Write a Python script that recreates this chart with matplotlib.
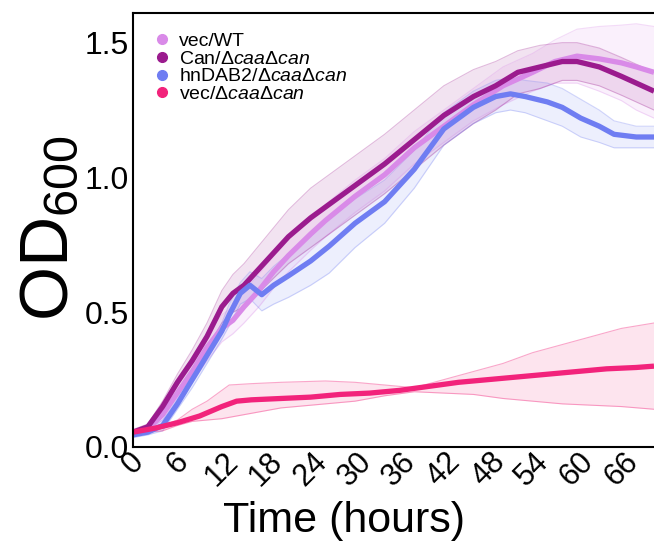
import matplotlib
matplotlib.use("Agg")
import matplotlib.pyplot as plt
from matplotlib.lines import Line2D
import numpy as np

plt.rcParams['font.family'] = ['Liberation Sans', 'DejaVu Sans']
plt.rcParams['mathtext.fontset'] = 'custom'
plt.rcParams['mathtext.rm'] = 'Liberation Sans'
plt.rcParams['mathtext.it'] = 'Liberation Sans:italic'

# --- data (time in hours, OD600) ---
# vec/WT
t_wt = [0, 2, 4, 6, 8, 10, 12, 13.5, 15, 17, 19, 21, 24, 26, 30, 34, 38, 42, 46, 50, 54, 57, 60, 63, 66, 68, 70.4]
od_wt = [0.05, 0.065, 0.12, 0.20, 0.28, 0.37, 0.44, 0.47, 0.52, 0.58, 0.65, 0.71, 0.79, 0.84, 0.93, 1.01, 1.11,
         1.19, 1.27, 1.34, 1.39, 1.43, 1.45, 1.44, 1.425, 1.41, 1.39]
sd_wt = [0.01, 0.01, 0.02, 0.03, 0.04, 0.05, 0.05, 0.05, 0.06, 0.06, 0.06, 0.06, 0.06, 0.06, 0.06, 0.06, 0.06,
         0.06, 0.06, 0.07, 0.07, 0.08, 0.10, 0.12, 0.14, 0.16, 0.17]

# Can/ΔcaaΔcan
t_can = [0, 2, 4, 6, 8, 10, 12, 13.5, 15, 18, 21, 24, 26, 30, 34, 38, 42, 46, 49, 52, 55, 58, 60, 63, 66, 68, 70.4]
od_can = [0.055, 0.075, 0.15, 0.24, 0.32, 0.41, 0.52, 0.57, 0.60, 0.69, 0.78, 0.85, 0.89, 0.97, 1.05, 1.14, 1.23,
          1.30, 1.34, 1.39, 1.41, 1.43, 1.43, 1.41, 1.375, 1.35, 1.32]
sd_can = [0.01, 0.01, 0.02, 0.03, 0.04, 0.05, 0.06, 0.07, 0.08, 0.09, 0.10, 0.11, 0.11, 0.11, 0.11, 0.11, 0.11,
          0.10, 0.09, 0.08, 0.08, 0.07, 0.07, 0.07, 0.07, 0.07, 0.07]

# hnDAB2/ΔcaaΔcan
t_dab = [0, 2, 4, 6, 8, 10, 12, 13, 14.5, 15.8, 17.4, 19, 21, 24, 26.5, 30, 34, 38, 42, 46, 49, 51, 53, 56, 58,
         60.5, 63, 65, 68, 70.4]
od_dab = [0.045, 0.055, 0.08, 0.16, 0.25, 0.34, 0.43, 0.49, 0.57, 0.60, 0.565, 0.60, 0.635, 0.69, 0.745, 0.83,
          0.91, 1.03, 1.18, 1.26, 1.30, 1.31, 1.30, 1.28, 1.26, 1.22, 1.19, 1.16, 1.15, 1.15]
sd_dab = [0.01, 0.01, 0.02, 0.02, 0.03, 0.03, 0.03, 0.04, 0.04, 0.05, 0.06, 0.07, 0.08, 0.09, 0.10, 0.09,
          0.08, 0.07, 0.06, 0.06, 0.06, 0.06, 0.06, 0.07, 0.07, 0.07, 0.06, 0.05, 0.04, 0.04]

# vec/ΔcaaΔcan
t_vec = [0, 3, 6, 9, 12, 14, 16, 20, 24, 28, 32, 36, 40, 44, 48, 52, 56, 60, 64, 68, 70.4]
od_vec = [0.055, 0.07, 0.09, 0.115, 0.15, 0.17, 0.175, 0.18, 0.185, 0.195, 0.20, 0.21, 0.225, 0.24, 0.25, 0.26,
          0.27, 0.28, 0.29, 0.295, 0.30]
t_vec_band = [0, 4, 6, 8, 10, 12, 13, 16, 20, 26, 30, 34, 38, 42, 46, 50, 54, 58, 62, 66, 70.4]
vec_hi = [0.06, 0.08, 0.10, 0.14, 0.17, 0.21, 0.23, 0.235, 0.24, 0.245, 0.24, 0.23, 0.22, 0.25, 0.28, 0.31, 0.35,
          0.38, 0.41, 0.44, 0.46]
vec_lo = [0.05, 0.06, 0.08, 0.095, 0.10, 0.105, 0.11, 0.125, 0.145, 0.16, 0.17, 0.19, 0.205, 0.20, 0.195, 0.18,
          0.17, 0.16, 0.155, 0.15, 0.14]

labels = ['vec/WT', r'Can/Δ$\it{caa}$Δ$\it{can}$', r'hnDAB2/Δ$\it{caa}$Δ$\it{can}$', r'vec/Δ$\it{caa}$Δ$\it{can}$']
colors = ['#d98ae8', '#9b1b8e', '#6f7df2', '#f2237b']
x_ticks = [0, 6, 12, 18, 24, 30, 36, 42, 48, 54, 60, 66]
y_ticks = [0.0, 0.5, 1.0, 1.5]

fig = plt.figure(figsize=(6.54, 5.45), dpi=100)
ax = fig.add_axes([133 / 654, 98 / 545, 1 - 133 / 654, 434 / 545])

# shaded bands (mean +/- sd)
band_sets = [(t_wt, od_wt, sd_wt), (t_can, od_can, sd_can), (t_dab, od_dab, sd_dab)]
for (t, m, s), c in zip(band_sets, colors[:3]):
    m = np.array(m); s = np.array(s)
    ax.fill_between(t, m - s, m + s, color=c, alpha=0.12, lw=0)
    ax.plot(t, m + s, color=c, lw=0.8, alpha=0.3)
    ax.plot(t, m - s, color=c, lw=0.8, alpha=0.3)
ax.fill_between(t_vec_band, vec_lo, vec_hi, color=colors[3], alpha=0.12, lw=0)
ax.plot(t_vec_band, vec_hi, color=colors[3], lw=0.8, alpha=0.4)
ax.plot(t_vec_band, vec_lo, color=colors[3], lw=0.8, alpha=0.4)

# mean curves
ax.plot(t_wt, od_wt, color=colors[0], lw=3.8, solid_capstyle='butt')
ax.plot(t_can, od_can, color=colors[1], lw=3.8, solid_capstyle='butt')
ax.plot(t_dab, od_dab, color=colors[2], lw=3.8, solid_capstyle='butt')
ax.plot(t_vec, od_vec, color=colors[3], lw=3.8, solid_capstyle='butt')

ax.set_xlim(0, 70.4)
ax.set_ylim(0, 1.61)
ax.set_xticks(x_ticks)
ax.set_yticks(y_ticks)
ax.set_yticklabels([f'{v:.1f}' for v in y_ticks])
ax.tick_params(length=0, labelsize=23, pad=3)
ax.tick_params(axis='x', labelsize=22, rotation=45, pad=0)
ax.spines['right'].set_visible(False)
for sp in ['left', 'bottom', 'top']:
    ax.spines[sp].set_linewidth(1.5)

handles = [Line2D([], [], marker='o', ls='none', color=c, markersize=7) for c in colors]
ax.legend(handles, labels, loc='upper left', bbox_to_anchor=(0.01, 0.982), frameon=False,
          fontsize=14, handletextpad=0.3, labelspacing=0.0, handlelength=1.2, borderaxespad=0.2)

fig.text(344 / 654, 1 - 521 / 545, 'Time (hours)', fontsize=31, ha='center', va='center')
fig.text(82 / 654, 1 - 228 / 545, r'OD$_{600}$', fontsize=50, rotation=90, ha='right', va='center')

fig.savefig('out.png', dpi=100)
